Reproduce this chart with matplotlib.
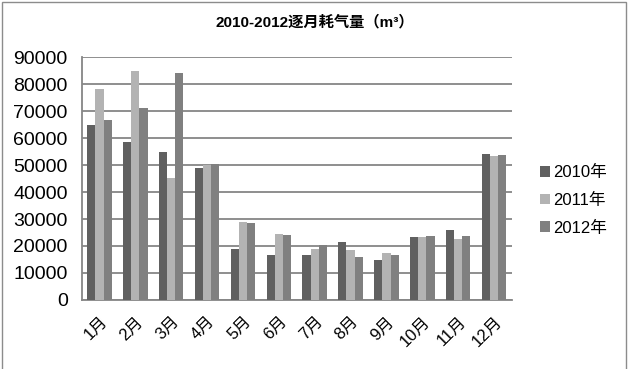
import matplotlib
matplotlib.use("Agg")
import matplotlib.pyplot as plt
import numpy as np
from matplotlib.patches import Rectangle

plt.rcParams['font.family'] = ['Liberation Sans', 'Noto Sans CJK SC', 'DejaVu Sans']

months = ["1月", "2月", "3月", "4月", "5月", "6月", "7月", "8月", "9月", "10月", "11月", "12月"]
series_names = ["2010年", "2011年", "2012年"]
v2010 = [64800, 58500, 54800, 49000, 18900, 16700, 16700, 21600, 14900, 23400, 26000, 54200]
v2011 = [78100, 84800, 45200, 49900, 28900, 24400, 18900, 18600, 17500, 23400, 22700, 53400]
v2012 = [66700, 71100, 84100, 50400, 28500, 24100, 20400, 16000, 16800, 23800, 23800, 53800]
colors = ["#606060", "#b3b3b3", "#808080"]
yticks = [0, 10000, 20000, 30000, 40000, 50000, 60000, 70000, 80000, 90000]

fig = plt.figure(figsize=(6.30, 3.69), dpi=100)
ax = fig.add_axes([0.1294, 0.187, 0.8127 - 0.1294, 0.8455 - 0.187])

x = np.arange(len(months))
w = 0.227
for i, (vals, name, c) in enumerate(zip([v2010, v2011, v2012], series_names, colors)):
    ax.bar(x + (i - 1) * w, vals, width=w, color=c, label=name, zorder=3)

ax.set_xlim(-0.5, len(months) - 0.5)
ax.set_ylim(0, 90000)
ax.set_yticks(yticks)
ax.set_yticklabels([str(t) for t in yticks], fontsize=14)
ax.yaxis.grid(True, color="#868686", linewidth=1.3, zorder=0)
ax.set_axisbelow(True)
ax.tick_params(axis='y', length=0, pad=10)
ax.tick_params(axis='x', length=0, pad=10)
ax.set_xticks(x)
ax.set_xticklabels(months, fontsize=12, rotation=45, ha='right', va='top', rotation_mode='anchor')
for s in ["top", "right"]:
    ax.spines[s].set_visible(False)
for s in ["left", "bottom"]:
    ax.spines[s].set_color("#868686")
    ax.spines[s].set_linewidth(1.3)

leg = ax.legend(loc='center left', bbox_to_anchor=(1.03, 0.41), frameon=False, fontsize=12,
                handlelength=0.6, handleheight=0.6, handletextpad=0.2, labelspacing=0.75)

fig.text(0.5, 0.94, "2010-2012逐月耗气量（m³）", ha='center', va='center', fontsize=11, fontweight='bold')

fig.patches.append(Rectangle((2 / 630, -0.05), 624 / 630, 1 - 2 / 369 + 0.05, transform=fig.transFigure,
                             fill=False, edgecolor="#8c8c8c", linewidth=1.0))

fig.savefig("out.png", dpi=100, facecolor="white")
